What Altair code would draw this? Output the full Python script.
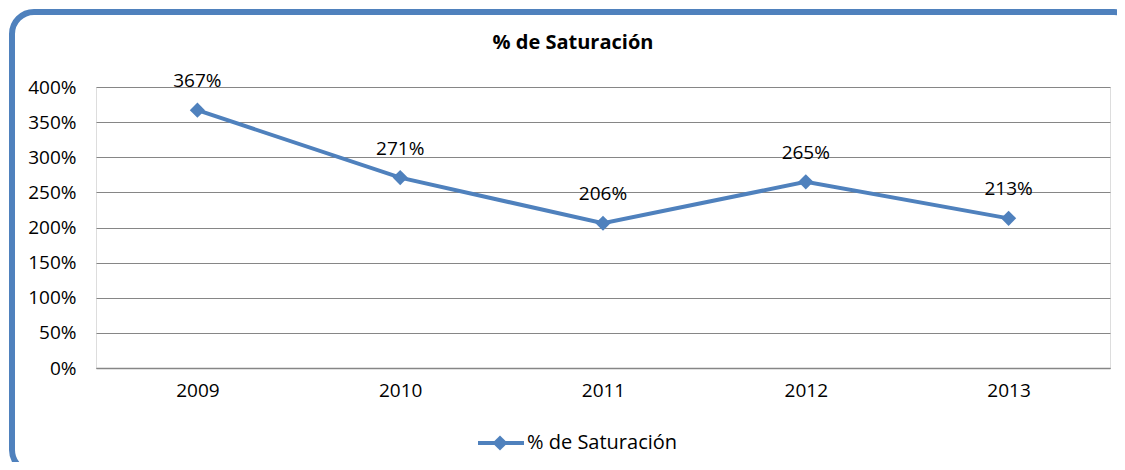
import altair as alt
import pandas as pd

years = ["2009", "2010", "2011", "2012", "2013"]
saturation = [367, 271, 206, 265, 213]
y_ticks = [0, 50, 100, 150, 200, 250, 300, 350, 400]
series_name = "% de Saturación"
title_text = "% de Saturación"

BLUE = "#4F81BD"
FONT = "Open Sans"
W, H = 1014, 281

df = pd.DataFrame({"year": years, "value": saturation})
one = pd.DataFrame({"k": [0]})

x_enc = alt.X("year:N", sort=years, title=None,
              scale=alt.Scale(type="point", padding=0.5),
              axis=alt.Axis(labelAngle=0, ticks=False, domain=True, domainColor="#868686",
                            domainWidth=1.5, labelPadding=13, labelFontSize=19,
                            labelFont=FONT, labelColor="#000000", grid=False))
y_enc = alt.Y("value:Q", title=None,
              scale=alt.Scale(domain=[0, 400], nice=False),
              axis=alt.Axis(values=y_ticks, tickCount=20, labelOverlap=False,
                            labelExpr="datum.value + '%'", ticks=False,
                            domain=False, grid=True, gridColor="#868686", gridWidth=1,
                            labelPadding=20, labelFontSize=19, labelFont=FONT,
                            labelColor="#000000"))

base = alt.Chart(df)
line = base.mark_line(color=BLUE, strokeWidth=4).encode(x=x_enc, y=y_enc)
pts = base.mark_point(shape="diamond", filled=True, color=BLUE, size=230, opacity=1).encode(
    x=alt.X("year:N", sort=years), y="value:Q")
labels = base.transform_calculate(lbl="datum.value + '%'").mark_text(
    dy=-29, fontSize=19, font=FONT, color="#000000", baseline="middle").encode(
    x=alt.X("year:N", sort=years), y="value:Q", text="lbl:N")

frame = alt.Chart(one).mark_rect(fill=None, stroke=BLUE, strokeWidth=6, cornerRadius=22).encode(
    x=alt.value(-84), x2=alt.value(1040), y=alt.value(-75), y2=alt.value(385))

title = alt.Chart(one).mark_text(fontSize=20, font=FONT, fontWeight="bold", color="#000000",
                                  baseline="middle", align="center").encode(
    x=alt.value(477), y=alt.value(-44), text=alt.value(title_text))

leg_line = alt.Chart(one).mark_rule(color=BLUE, strokeWidth=4).encode(
    x=alt.value(382), x2=alt.value(428), y=alt.value(356))
leg_pt = alt.Chart(one).mark_point(shape="diamond", filled=True, color=BLUE, size=230, opacity=1).encode(
    x=alt.value(404), y=alt.value(356))
leg_txt = alt.Chart(one).mark_text(fontSize=20, font=FONT, color="#000000", align="left",
                                    baseline="middle").encode(
    x=alt.value(431), y=alt.value(356), text=alt.value(series_name))

chart = alt.layer(frame, line, pts, labels, title, leg_line, leg_pt, leg_txt).properties(
    width=W, height=H,
    autosize=alt.AutoSizeParams(type="none"),
    padding={"left": 88, "top": 79, "right": 7, "bottom": 94},
).configure_view(stroke=None).configure(background="white")

chart.save("out.html", embed_options={"renderer": "svg", "actions": False})
